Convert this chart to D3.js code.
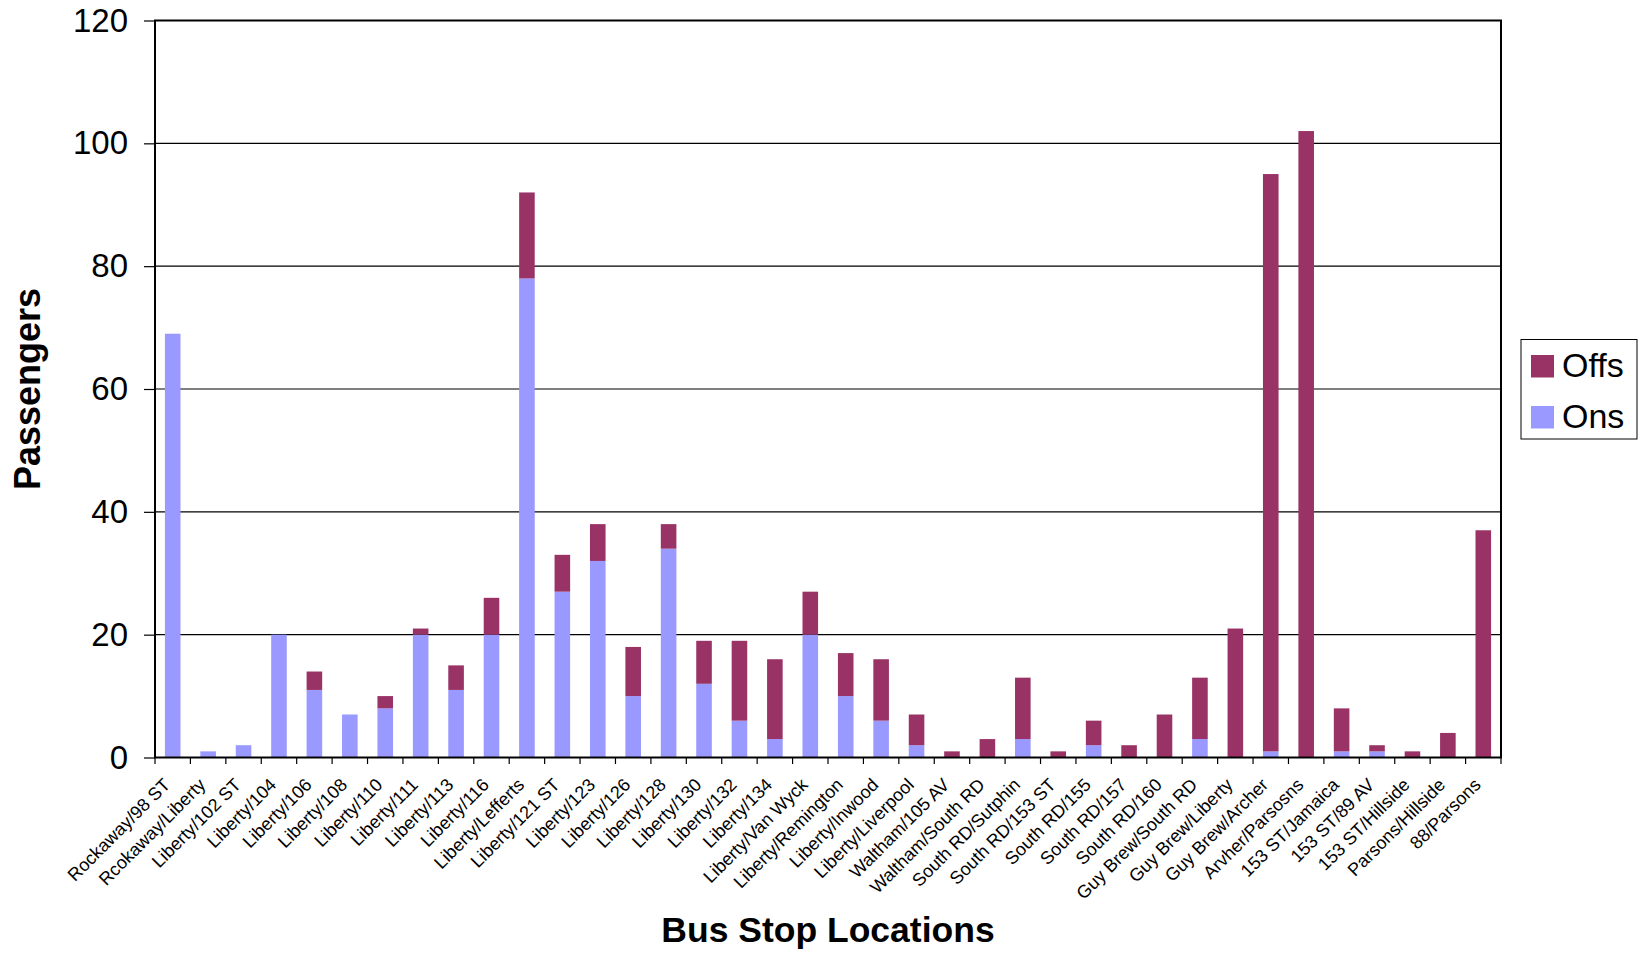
<!DOCTYPE html>
<html>
<head>
<meta charset="utf-8">
<script src="https://cdn.jsdelivr.net/npm/d3@7"></script>
<style>
  html, body { margin: 0; padding: 0; background: #fff; }
  svg { display: block; font-family: "Liberation Sans", Arial, sans-serif; }
</style>
</head>
<body>
<svg id="chart" width="1638" height="953"></svg>
<script>
const stops = [
  "Rockaway/98 ST", "Rcokaway/Liberty", "Liberty/102 ST", "Liberty/104", "Liberty/106",
  "Liberty/108", "Liberty/110", "Liberty/111", "Liberty/113", "Liberty/116",
  "Liberty/Lefferts", "Liberty/121 ST", "Liberty/123", "Liberty/126", "Liberty/128",
  "Liberty/130", "Liberty/132", "Liberty/134", "Liberty/Van Wyck", "Liberty/Remington",
  "Liberty/Inwood", "Liberty/Liverpool", "Waltham/105 AV", "Waltham/South RD", "South RD/Sutphin",
  "South RD/153 ST", "South RD/155", "South RD/157", "South RD/160", "Guy Brew/South RD",
  "Guy Brew/Liberty", "Guy Brew/Archer", "Arvher/Parsosns", "153 ST/Jamaica", "153 ST/89 AV",
  "153 ST/Hillside", "Parsons/Hillside", "88/Parsons"
];
const ons = [
  69, 1, 2, 20, 11, 7, 8, 20, 11, 20,
  78, 27, 32, 10, 34, 12, 6, 3, 20, 10,
  6, 2, 0, 0, 3, 0, 2, 0, 0, 3,
  0, 1, 0, 1, 1, 0, 0, 0
];
const offs = [
  0, 0, 0, 0, 3, 0, 2, 1, 4, 6,
  14, 6, 6, 8, 4, 7, 13, 13, 7, 7,
  10, 5, 1, 3, 10, 1, 4, 2, 7, 10,
  21, 94, 102, 7, 1, 1, 4, 37
];
const yTicks = [0, 20, 40, 60, 80, 100, 120];
const seriesNames = ["Ons", "Offs"];
const seriesColors = ["#9999FF", "#993366"];

const svg = d3.select("#chart");
const pL = 155, pR = 1501, pT = 20.5, pB = 757.5;

const x = d3.scaleBand().domain(stops).range([pL, pR]).paddingInner(0.56).paddingOuter(0.28);
const xb = d3.scaleBand().domain(stops).range([pL, pR]);
const y = d3.scaleLinear().domain([0, 120]).range([pB, pT]);

// gridlines
svg.append("g").selectAll("line").data(yTicks.slice(1, -1)).join("line")
  .attr("x1", pL).attr("x2", pR)
  .attr("y1", d => y(d)).attr("y2", d => y(d))
  .attr("stroke", "#000").attr("stroke-width", 1.2);

// stacked bars
const rows = stops.map((s, i) => ({ stop: s, Ons: ons[i], Offs: offs[i] }));
const stacked = d3.stack().keys(seriesNames)(rows);
svg.append("g").selectAll("g").data(stacked).join("g")
  .attr("fill", (d, i) => seriesColors[i])
  .selectAll("rect").data(d => d).join("rect")
  .attr("x", d => x(d.data.stop))
  .attr("width", x.bandwidth())
  .attr("y", d => y(d[1]))
  .attr("height", d => y(d[0]) - y(d[1]));

// frame
svg.append("rect").attr("x", pL).attr("y", pT)
  .attr("width", pR - pL).attr("height", pB - pT)
  .attr("fill", "none").attr("stroke", "#000").attr("stroke-width", 2);

// y axis ticks & labels
const yAxis = d3.axisLeft(y).tickValues(yTicks).tickSize(11).tickPadding(16);
const gy = svg.append("g").attr("transform", `translate(${pL},0)`).call(yAxis);
gy.select(".domain").remove();
gy.selectAll(".tick line").attr("stroke", "#000").attr("stroke-width", 1.2);
gy.selectAll(".tick text").attr("font-size", 33).attr("fill", "#000")
  .attr("font-family", "'Liberation Sans', Arial, sans-serif");

// x axis ticks at category boundaries
const boundaries = stops.map(s => xb(s)).concat([pR]);
svg.append("g").selectAll("line").data(boundaries).join("line")
  .attr("x1", d => d).attr("x2", d => d)
  .attr("y1", pB).attr("y2", pB + 6.5)
  .attr("stroke", "#000").attr("stroke-width", 1.2);

// x labels
svg.append("g").selectAll("text").data(stops).join("text")
  .attr("transform", d => `translate(${xb(d) + xb.bandwidth() / 2 - 6},${pB + 24}) rotate(-45)`)
  .attr("text-anchor", "end")
  .attr("dy", "0.35em")
  .attr("font-size", 18)
  .attr("fill", "#000")
  .text(d => d);

// axis titles
svg.append("text")
  .attr("transform", `translate(40,${(pT + pB) / 2}) rotate(-90)`)
  .attr("text-anchor", "middle")
  .attr("font-size", 36).attr("font-weight", "bold")
  .text("Passengers");

svg.append("text")
  .attr("x", (pL + pR) / 2).attr("y", 942)
  .attr("text-anchor", "middle")
  .attr("font-size", 35.5).attr("font-weight", "bold")
  .text("Bus Stop Locations");

// legend
const lg = svg.append("g");
lg.append("rect").attr("x", 1521).attr("y", 339.5).attr("width", 116).attr("height", 99.5)
  .attr("fill", "#fff").attr("stroke", "#000").attr("stroke-width", 1);
const legendItems = [{ name: "Offs", color: seriesColors[1] }, { name: "Ons", color: seriesColors[0] }];
const li = lg.selectAll("g.item").data(legendItems).join("g").attr("class", "item")
  .attr("transform", (d, i) => `translate(1531,${355 + i * 51})`);
li.append("rect").attr("width", 23).attr("height", 22.5).attr("fill", d => d.color);
li.append("text").attr("x", 31).attr("y", 10).attr("dy", "0.36em")
  .attr("font-size", 34).attr("fill", "#000").text(d => d.name);
</script>
</body>
</html>
